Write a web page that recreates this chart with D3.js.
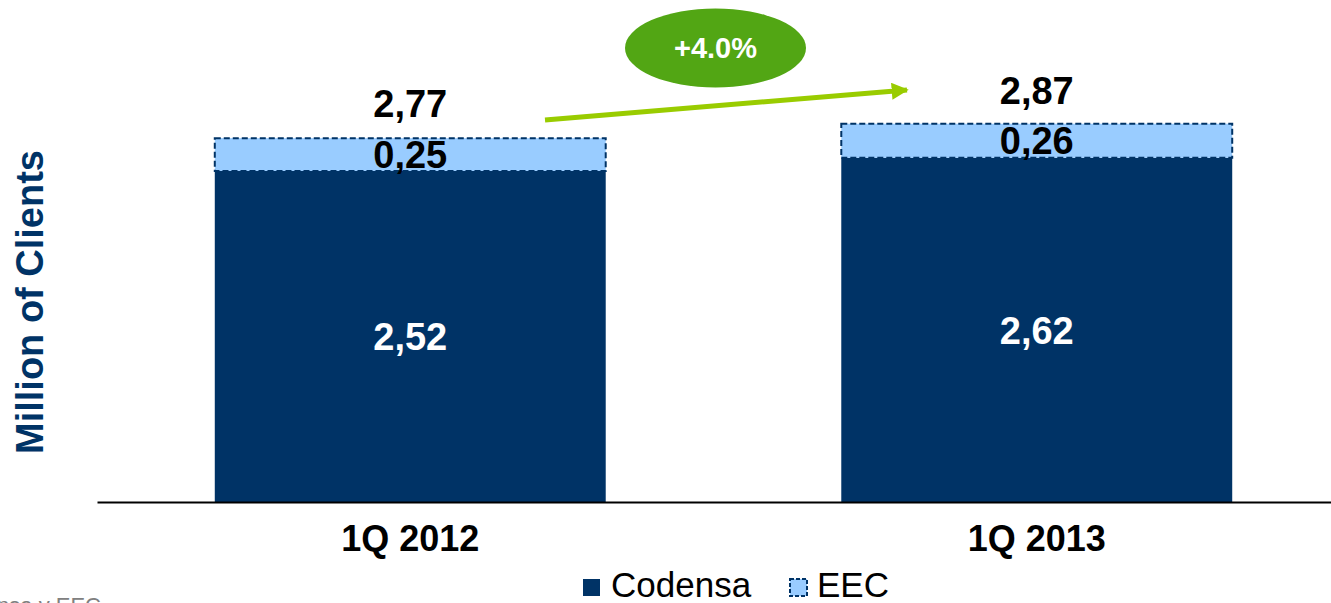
<!DOCTYPE html>
<html>
<head>
<meta charset="utf-8">
<script src="https://cdn.jsdelivr.net/npm/d3@7"></script>
<style>
  html, body { margin: 0; padding: 0; background: #fff; overflow: hidden; }
  svg { display: block; font-family: "Liberation Sans", Arial, sans-serif; }
</style>
</head>
<body>
<svg id="chart" width="1331" height="603"></svg>
<script>
// Clients by quarter, in millions
const periods = ["1Q 2012", "1Q 2013"];
const codensa = [2.52, 2.62];
const eec = [0.25, 0.26];
const totals = [2.77, 2.87];
const seriesNames = ["Codensa", "EEC"];
const growthLabel = "+4.0%";
const axisTitle = "Million of Clients";
const sourceNote = "Fuente: Codensa y EEC";

const fmt = v => d3.format(".2f")(v).replace(".", ",");

const svg = d3.select("#chart");
const navy = "#003366", light = "#99ccff";

const rows = periods.map((p, i) => ({ period: p, Codensa: codensa[i], EEC: eec[i], total: totals[i] }));
const stacked = d3.stack().keys(seriesNames)(rows);

const x = d3.scaleBand().domain(periods).range([97, 1350])
  .paddingInner(0.376).paddingOuter(0.188);
const y = d3.scaleLinear().domain([0, 3.7]).range([502, 16]);

// Bars
const fills = { Codensa: navy, EEC: light };
stacked.forEach(layer => {
  const g = svg.append("g");
  g.selectAll("rect").data(layer).join("rect")
    .attr("x", d => x(d.data.period))
    .attr("y", d => y(d[1]))
    .attr("width", x.bandwidth())
    .attr("height", d => y(d[0]) - y(d[1]))
    .attr("fill", fills[layer.key])
    .attr("stroke", layer.key === "EEC" ? navy : "none")
    .attr("stroke-width", 2)
    .attr("stroke-dasharray", layer.key === "EEC" ? "6,3" : null);
});

// Segment value labels
const labelSize = 38;
stacked.forEach(layer => {
  svg.append("g").selectAll("text").data(layer).join("text")
    .attr("x", d => x(d.data.period) + x.bandwidth() / 2)
    .attr("y", d => (y(d[0]) + y(d[1])) / 2 + labelSize * 0.36)
    .attr("text-anchor", "middle")
    .attr("font-size", labelSize)
    .attr("font-weight", "bold")
    .attr("fill", layer.key === "Codensa" ? "#fff" : "#000")
    .text(d => fmt(d.data[layer.key]));
});

// Totals above bars
svg.append("g").selectAll("text").data(rows).join("text")
  .attr("x", d => x(d.period) + x.bandwidth() / 2)
  .attr("y", d => y(d.total) - 21)
  .attr("text-anchor", "middle")
  .attr("font-size", labelSize)
  .attr("font-weight", "bold")
  .attr("fill", "#000")
  .text(d => fmt(d.total));

// Category axis
const axis = svg.append("g")
  .attr("transform", "translate(0,502)")
  .call(d3.axisBottom(x).tickSize(0).tickSizeOuter(0));
axis.select(".domain").attr("stroke", "#000").attr("stroke-width", 2);
axis.selectAll(".tick text")
  .attr("y", 49).attr("dy", null)
  .attr("font-size", 36)
  .attr("font-weight", "bold")
  .attr("font-family", "Liberation Sans, Arial, sans-serif")
  .attr("fill", "#000");

// Vertical axis title
svg.append("text")
  .attr("transform", "translate(43,302) rotate(-90)")
  .attr("text-anchor", "middle")
  .attr("font-size", 38)
  .attr("font-weight", "bold")
  .attr("fill", navy)
  .text(axisTitle);

// Growth arrow and badge
const defs = svg.append("defs");
defs.append("marker")
  .attr("id", "arrowHead")
  .attr("viewBox", "0 0 10 10")
  .attr("refX", 9).attr("refY", 5)
  .attr("markerWidth", 3.4).attr("markerHeight", 3.4)
  .attr("markerUnits", "strokeWidth")
  .attr("orient", "auto")
  .append("path").attr("d", "M0,0 L10,5 L0,10 Z").attr("fill", "#99cc00");

svg.append("line")
  .attr("x1", 545).attr("y1", 120)
  .attr("x2", 907).attr("y2", 90)
  .attr("stroke", "#99cc00")
  .attr("stroke-width", 5)
  .attr("marker-end", "url(#arrowHead)");

svg.append("ellipse")
  .attr("cx", 715.5).attr("cy", 48)
  .attr("rx", 90.5).attr("ry", 39.5)
  .attr("fill", "#52a614");
svg.append("text")
  .attr("x", 715.5).attr("y", 58)
  .attr("text-anchor", "middle")
  .attr("font-size", 29)
  .attr("font-weight", "bold")
  .attr("fill", "#fff")
  .text(growthLabel);

// Legend
const legendItems = [
  { name: seriesNames[0], mx: 583, tx: 611 },
  { name: seriesNames[1], mx: 790, tx: 817 }
];
const lg = svg.append("g");
legendItems.forEach(item => {
  lg.append("rect")
    .attr("x", item.mx).attr("y", 579)
    .attr("width", 17).attr("height", 17)
    .attr("fill", fills[item.name])
    .attr("stroke", item.name === "EEC" ? navy : "none")
    .attr("stroke-width", 2)
    .attr("stroke-dasharray", item.name === "EEC" ? "4,2" : null);
  lg.append("text")
    .attr("x", item.tx).attr("y", 597)
    .attr("font-size", 35)
    .attr("fill", "#000")
    .text(item.name);
});

// Source note, partly outside the frame on the left
svg.append("text")
  .attr("x", 101).attr("y", 613)
  .attr("text-anchor", "end")
  .attr("font-size", 22)
  .attr("fill", "#808080")
  .text(sourceNote);
</script>
</body>
</html>
